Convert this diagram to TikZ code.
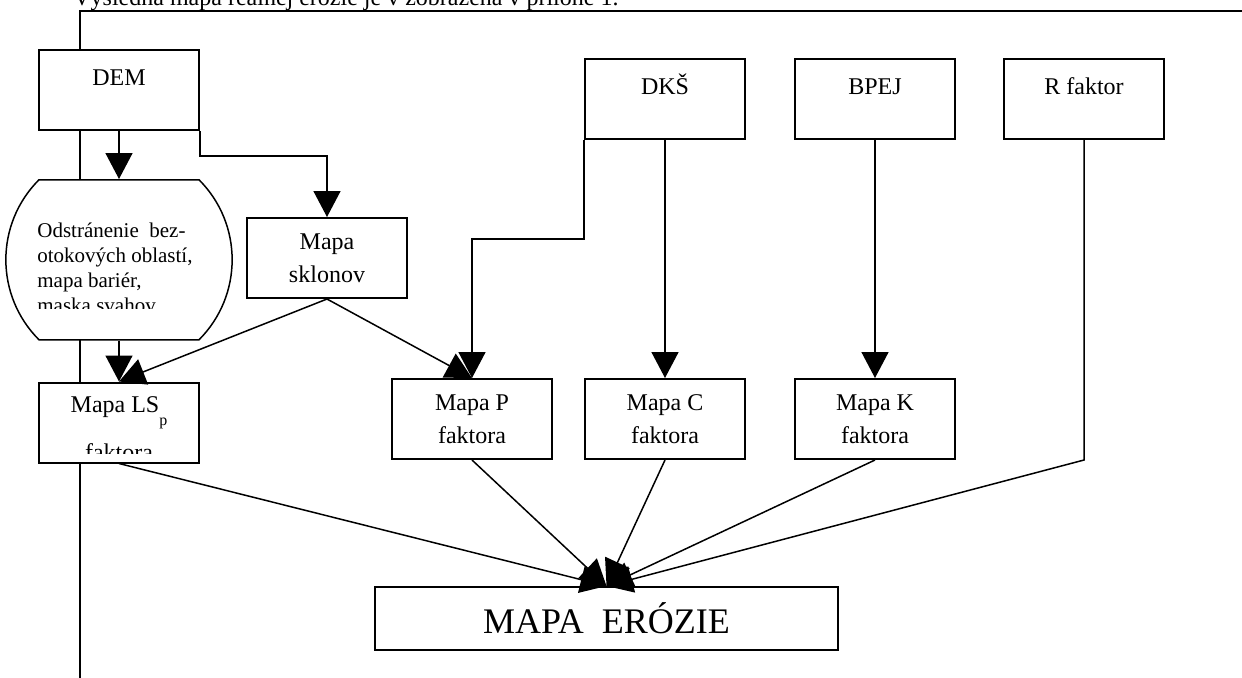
\documentclass[tikz,border=0pt]{standalone}
\usepackage{fontspec}
\setmainfont{Liberation Serif}
\usetikzlibrary{arrows.meta, positioning, shapes.misc}
\tikzset{
    font=\fontsize{12}{16.5}\selectfont,
    source/.style={rectangle, draw, fill=white, line width=1pt, minimum width=80pt, inner ysep=0pt, text height=17.5pt, text depth=22.5pt},
    factor/.style={rectangle, draw, fill=white, line width=1pt, minimum width=80pt, minimum height=40pt, align=center},
    process/.style={rounded rectangle, rounded rectangle arc length=90, draw, fill=white, line width=0.75pt, minimum width=112.5pt, minimum height=80pt},
    result/.style={rectangle, draw, fill=white, line width=1pt, minimum width=231.5pt, minimum height=31.5pt, font=\fontsize{18}{20}\selectfont},
    arrow/.style={-{Triangle[length=13pt, width=13.5pt]}, line width=0.75pt},
    pageline/.style={line width=1pt},
    cut_text/.style={inner sep=0pt}
}
\begin{document}
\begin{tikzpicture}[x=0.5pt, y=-0.5pt]
    \useasboundingbox (0,0) rectangle (1242,677);

    % page frame and the line above it
    \draw [pageline] (80,700) -- (80,11) -- (1260,11);
    \node (caption) [anchor=base west, inner sep=0pt] at (73,5) {Výsledná mapa reálnej erózie je v zobrazená v prílohe 1.};

    \node (dem) [source] at (119,90) {DEM};
    \node (odstr) [process, below=24pt of dem] {};
    \node (lsmap) [factor, below=20.5pt of odstr] {};
    \node (sklonov) [factor] at (327,258) {Mapa\\sklonov};

    \node (pmap) [factor] at (472,419) {Mapa P\\faktora};
    \node (cmap) [factor, right=15.5pt of pmap] {Mapa C\\faktora};
    \node (kmap) [factor, right=24pt of cmap] {Mapa K\\faktora};

    \node (dks)  [source, above=119pt of cmap] {DKŠ};
    \node (bpej) [source, right=24pt of dks] {BPEJ};
    \node (rfak) [source, right=23.5pt of bpej] {R faktor};

    \node (erozie) [result] at (606.5,618.5) {MAPA\ \ ERÓZIE};

    % texts cut off at the bottom of their shapes
    \begin{scope}
        \path ([yshift=16pt]odstr.south) coordinate (odstrcut);
        \clip (odstr.north -| odstr.west) rectangle (odstrcut -| odstr.east);
        \node (odstrtext) [cut_text, anchor=base west, align=left, font=\fontsize{10.5}{12.5}\selectfont] at (37,312) {Odstránenie\ \ bez-\\otokových oblastí,\\mapa bariér,\\maska svahov};
    \end{scope}
    \begin{scope}
        \path ([yshift=5pt]lsmap.south) coordinate (lscut);
        \clip (lsmap.north west) rectangle (lscut -| lsmap.east);
        \node (lstext) [cut_text, anchor=base, align=center] at (119,460) {Mapa LS\raisebox{-6.5pt}{\fontsize{8}{8}\selectfont p}\\[6pt]faktora};
    \end{scope}

    \draw [arrow] (dem.south) -- (odstr.north);
    \draw [arrow] (dem.south east) -- ++(0,25) -| (sklonov.north);
    \draw [arrow] (odstr.south) -- (lsmap.north);
    \draw [arrow] (sklonov.south) -- (lsmap.north);
    \draw [arrow] (sklonov.south) -- (pmap.north);
    \draw [arrow] (dks.south west) -- ++(0,99) -| (pmap.north);
    \draw [arrow] (dks.south) -- (cmap.north);
    \draw [arrow] (bpej.south) -- (kmap.north);

    \draw [arrow] (lsmap.south) -- (erozie.north);
    \draw [arrow] (pmap.south) -- (erozie.north);
    \draw [arrow] (cmap.south) -- (erozie.north);
    \draw [arrow] (kmap.south) -- (erozie.north);
    \draw [arrow] (rfak.south) -- (rfak.south |- kmap.south) -- (erozie.north);

\end{tikzpicture}
\end{document}
